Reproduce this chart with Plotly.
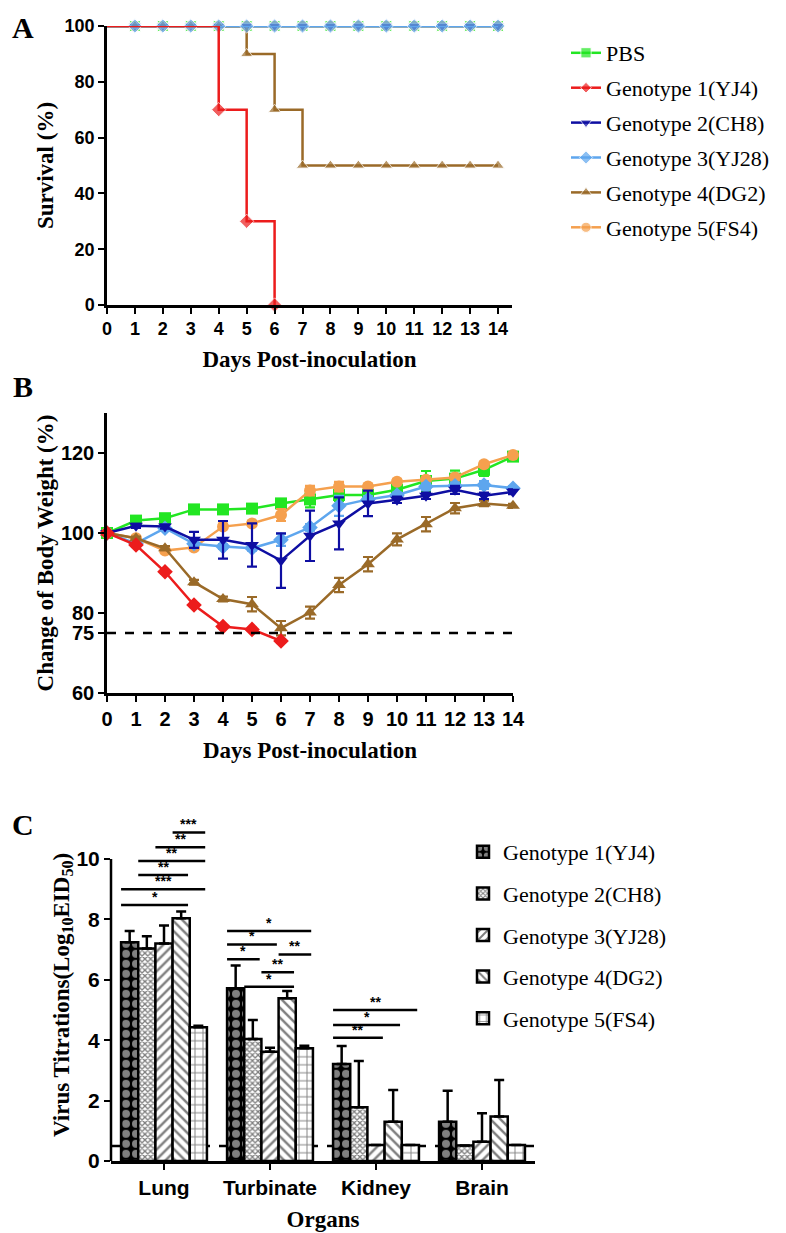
import plotly.graph_objects as go

# ---------------- data ----------------
days = list(range(15))
group_names = ["PBS", "Genotype 1(YJ4)", "Genotype 2(CH8)", "Genotype 3(YJ28)",
               "Genotype 4(DG2)", "Genotype 5(FS4)"]
colors = ["#22E622", "#EC1C1C", "#0E0EA2", "#5EA6EE", "#9A6A28", "#F5A04E"]
symbols = ["square", "diamond", "triangle-down", "diamond", "triangle-up", "circle"]

# Panel A: survival (%)
surv_pbs = [100, 100, 100, 100, 100, 100, 100, 100, 100, 100, 100, 100, 100, 100, 100]
surv_g1_days = [0, 4, 5, 6]
surv_g1 = [100, 70, 30, 0]
surv_g2 = [100, 100, 100, 100, 100, 100, 100, 100, 100, 100, 100, 100, 100, 100, 100]
surv_g3 = [100, 100, 100, 100, 100, 100, 100, 100, 100, 100, 100, 100, 100, 100, 100]
surv_g4 = [100, 100, 100, 100, 100, 90, 70, 50, 50, 50, 50, 50, 50, 50, 50]
surv_g5 = [100, 100, 100, 100, 100, 100, 100, 100, 100, 100, 100, 100, 100, 100, 100]

# Panel B: change of body weight (%)
wt_pbs = [100, 103.1, 103.7, 105.9, 105.9, 106.1, 107.4, 108.4, 109.5, 109.5, 110.8, 113.0, 113.6, 115.8, 119.1]
wt_pbs_err = [0, 0.4, 0.3, 0.4, 0.4, 0.4, 0.5, 2.0, 1.5, 0.8, 1.0, 2.5, 2.0, 1.5, 0.8]
wt_g1_days = [0, 1, 2, 3, 4, 5, 6]
wt_g1 = [100, 97.0, 90.3, 82.0, 76.6, 75.9, 73.0]
wt_g1_err = [0, 0.3, 0.4, 0.4, 0.4, 0.4, 0.4]
wt_g2 = [100, 101.8, 101.6, 98.3, 98.3, 97.0, 93.1, 99.3, 102.4, 107.4, 108.3, 109.3, 110.8, 109.3, 110.3]
wt_g2_err = [0, 0.5, 0.5, 2.0, 4.7, 5.4, 6.8, 6.3, 6.5, 3.2, 0.8, 0.8, 1.0, 0.8, 0.6]
wt_g3 = [100, 97.4, 101.2, 97.3, 96.6, 96.2, 98.3, 101.4, 106.8, 108.4, 109.5, 111.6, 111.8, 112.0, 111.2]
wt_g3_err = [0, 0.4, 0.5, 0.6, 0.6, 0.6, 1.5, 0.8, 2.5, 0.8, 0.6, 0.8, 0.8, 1.0, 0.5]
wt_g4 = [100, 98.7, 96.2, 87.7, 83.5, 82.2, 76.2, 80.1, 87.0, 92.2, 98.4, 102.2, 106.2, 107.4, 106.8]
wt_g4_err = [0, 0.4, 0.5, 0.6, 0.6, 1.8, 1.8, 1.5, 1.8, 1.8, 1.5, 1.8, 1.3, 0.7, 0.5]
wt_g5 = [100, 98.7, 95.6, 96.4, 101.6, 102.4, 104.5, 110.6, 111.6, 111.6, 112.8, 113.3, 113.9, 117.2, 119.5]
wt_g5_err = [0, 0.4, 0.4, 0.5, 0.6, 0.6, 1.5, 1.2, 1.2, 0.6, 0.6, 0.6, 0.6, 0.6, 0.5]
weight_threshold = 75

# Panel C: virus titrations
organs = ["Lung", "Turbinate", "Kidney", "Brain"]
geno_names = ["Genotype 1(YJ4)", "Genotype 2(CH8)", "Genotype 3(YJ28)",
              "Genotype 4(DG2)", "Genotype 5(FS4)"]
titer_g1 = [7.24, 5.72, 3.21, 1.30]
titer_g1_err = [0.38, 0.75, 0.60, 1.03]
titer_g2 = [7.04, 4.04, 1.78, 0.51]
titer_g2_err = [0.40, 0.63, 1.53, 0.0]
titer_g3 = [7.20, 3.62, 0.53, 0.64]
titer_g3_err = [0.60, 0.13, 0.0, 0.94]
titer_g4 = [8.04, 5.39, 1.30, 1.47]
titer_g4_err = [0.22, 0.24, 1.05, 1.21]
titer_g5 = [4.43, 3.73, 0.53, 0.53]
titer_g5_err = [0.05, 0.09, 0.0, 0.0]
detection_limit = 0.5

# significance comparisons: (organ index, genotype a, genotype b, bracket height, label)
comparisons = [
    (0, 3, 4, 10.88, "***"),
    (0, 2, 4, 10.39, "**"),
    (0, 1, 4, 9.93, "**"),
    (0, 1, 3, 9.47, "**"),
    (0, 0, 4, 9.00, "***"),
    (0, 0, 3, 8.48, "*"),
    (1, 0, 4, 7.62, "*"),
    (1, 0, 2, 7.17, "*"),
    (1, 3, 4, 6.84, "**"),
    (1, 0, 1, 6.68, "*"),
    (1, 2, 3, 6.25, "**"),
    (1, 1, 3, 5.77, "*"),
    (2, 0, 4, 5.00, "**"),
    (2, 0, 3, 4.50, "*"),
    (2, 0, 2, 4.08, "**"),
]

# ---------------- figure ----------------
# the page body has an 8px margin, so the figure is drawn 8px smaller and offset
OFF = 8
W, H = 786 - OFF, 1233 - OFF
def px_x(p):
    return (p - OFF) / W
def px_y(p):
    return 1 - (p - OFF) / H

fig = go.Figure()

tick_font_A = dict(family="Liberation Sans, Arial", size=18, color="black", weight="bold")
tick_font_B = dict(family="Liberation Sans, Arial", size=20, color="black", weight="bold")
tick_font_C = dict(family="Liberation Sans, Arial", size=21, color="black", weight="bold")
title_font = dict(family="Liberation Serif, Times New Roman", size=23, color="black", weight="bold")

# ---- Panel A ----
surv_series = [
    (0, days, surv_pbs),
    (5, days, surv_g5),
    (2, days, surv_g2),
    (4, days, surv_g4),
    (3, days, surv_g3),
    (1, surv_g1_days, surv_g1),
]
for gi, xs, ys in surv_series:
    fig.add_trace(go.Scatter(
        x=xs, y=ys, mode="lines+markers", line_shape="hv",
        line=dict(color=colors[gi], width=2.5),
        marker=dict(symbol=symbols[gi], color=colors[gi],
                    size=[0 if d == 0 else 11 for d in xs]),
        name=group_names[gi], legendrank=gi + 1, legendgroup=f"g{gi}",
        legend="legend", cliponaxis=False, xaxis="x", yaxis="y",
    ))

# ---- Panel B ----
wt_series = [
    (0, days, wt_pbs, wt_pbs_err),
    (5, days, wt_g5, wt_g5_err),
    (3, days, wt_g3, wt_g3_err),
    (4, days, wt_g4, wt_g4_err),
    (2, days, wt_g2, wt_g2_err),
    (1, wt_g1_days, wt_g1, wt_g1_err),
]
for gi, xs, ys, es in wt_series:
    fig.add_trace(go.Scatter(
        x=xs, y=ys, mode="lines+markers",
        line=dict(color=colors[gi], width=2.5),
        marker=dict(symbol=symbols[gi], color=colors[gi], size=12),
        error_y=dict(type="data", array=es, color=colors[gi], thickness=2.2, width=5),
        showlegend=False, cliponaxis=False, xaxis="x2", yaxis="y2",
    ))

# ---- Panel C ----
titers = [titer_g1, titer_g2, titer_g3, titer_g4, titer_g5]
titer_errs = [titer_g1_err, titer_g2_err, titer_g3_err, titer_g4_err, titer_g5_err]
bar_fill = ["black", "white", "white", "white", "white"]
patterns = [
    dict(shape=".", size=10, solidity=0.5, fgcolor="white", bgcolor="black"),
    dict(shape="x", size=4, solidity=0.55, fgcolor="black", bgcolor="white"),
    dict(shape="/", size=7, solidity=0.35, fgcolor="black", bgcolor="white"),
    dict(shape="\\", size=7, solidity=0.35, fgcolor="black", bgcolor="white"),
    dict(shape="+", size=8, solidity=0.22, fgcolor="black", bgcolor="white"),
]
organ_pos = list(range(len(organs)))
for gi in range(5):
    fig.add_trace(go.Bar(
        x=organ_pos, y=titers[gi], name=geno_names[gi],
        marker=dict(color=bar_fill[gi], line=dict(color="black", width=2.5),
                    pattern=dict(fillmode="overlay", **patterns[gi])),
        error_y=dict(type="data", symmetric=False, array=titer_errs[gi],
                     arrayminus=[0] * len(organs), color="black", thickness=2.5, width=5),
        legend="legend2", legendgroup=f"c{gi}", xaxis="x3", yaxis="y3",
    ))

bargap = 0.19
bar_w = (1 - bargap) / 5
offs = [(-2 + k) * bar_w for k in range(5)]

shapes = []
annotations = []
# threshold lines
shapes.append(dict(type="line", xref="x2", yref="y2", x0=0, x1=14,
                   y0=weight_threshold, y1=weight_threshold,
                   line=dict(color="black", width=2.5, dash="dash")))
shapes.append(dict(type="line", xref="x3", yref="y3", x0=-0.5, x1=3.5,
                   y0=detection_limit, y1=detection_limit, layer="below",
                   line=dict(color="black", width=2.5, dash="dash")))
for organ, ga, gb, hgt, lab in comparisons:
    x0 = organ + offs[ga] - bar_w / 2
    x1 = organ + offs[gb] + bar_w * 0.4
    shapes.append(dict(type="line", xref="x3", yref="y3", x0=x0, x1=x1, y0=hgt, y1=hgt,
                       line=dict(color="black", width=2.5)))
    annotations.append(dict(x=(x0 + x1) / 2, y=hgt, xref="x3", yref="y3", text=lab,
                            showarrow=False, yshift=8,
                            font=dict(family="Liberation Sans, Arial", size=14,
                                      color="black", weight="bold")))

# C y-axis line only up to 10
domC = [px_y(1161), px_y(1161 - 11 * 30.2)]
yC_range = [0, 11]
y10 = domC[0] + (10 - yC_range[0]) / (yC_range[1] - yC_range[0]) * (domC[1] - domC[0])
shapes.append(dict(type="line", xref="paper", yref="paper",
                   x0=px_x(111), x1=px_x(111), y0=domC[0], y1=y10,
                   line=dict(color="black", width=2.5)))

# panel letters
for letter, lx, ly in [("A", 23, 28), ("B", 23, 387), ("C", 23, 824)]:
    annotations.append(dict(x=px_x(lx), y=px_y(ly), xref="paper", yref="paper", text=letter,
                            showarrow=False, xanchor="center", yanchor="middle",
                            font=dict(family="Liberation Serif, Times New Roman",
                                      size=30, color="black", weight="bold")))

axis_common = dict(showgrid=False, zeroline=False, showline=True, linecolor="black",
                   linewidth=2.5, ticks="outside", ticklen=6, tickwidth=2.2, tickcolor="black",
                   automargin=False)

fig.update_layout(
    width=W, height=H, margin=dict(l=0, r=0, t=0, b=0, autoexpand=False),
    paper_bgcolor="white", plot_bgcolor="white",
    barmode="group", bargap=bargap, bargroupgap=0,
    shapes=shapes, annotations=annotations,
    xaxis=dict(domain=[px_x(107), px_x(512)], range=[0, 14.5], tickvals=days,
               anchor="y", tickfont=tick_font_A,
               title=dict(text="Days Post-inoculation", font=title_font, standoff=13),
               **axis_common),
    yaxis=dict(domain=[px_y(305), px_y(26)], range=[0, 100], tickvals=[0, 20, 40, 60, 80, 100],
               anchor="x", tickfont=tick_font_A,
               title=dict(text="Survival (%)", font=title_font, standoff=5),
               **axis_common),
    xaxis2=dict(domain=[px_x(107), px_x(513)], range=[0, 14], tickvals=days,
                anchor="y2", tickfont=tick_font_B,
                title=dict(text="Days Post-inoculation", font=title_font, standoff=14),
                **axis_common),
    yaxis2=dict(domain=[px_y(693), px_y(413)], range=[60, 130],
                tickvals=[60, 75, 80, 100, 120], anchor="x2", tickfont=tick_font_B,
                title=dict(text="Change of Body Weight (%)", font=title_font, standoff=1),
                **axis_common),
    xaxis3=dict(domain=[px_x(111), px_x(535)], range=[-0.5, 3.5], tickvals=organ_pos,
                ticktext=organs, anchor="y3", tickfont=tick_font_C,
                title=dict(text="Organs", font=title_font, standoff=13),
                **axis_common),
    yaxis3=dict(domain=domC, range=yC_range, tickvals=[0, 2, 4, 6, 8, 10], anchor="x3",
                tickfont=tick_font_C,
                title=dict(text="Virus Titrations(Log<sub>10</sub>EID<sub>50</sub>)",
                           font=title_font, standoff=0),
                **{**axis_common, "showline": False}),
    legend=dict(x=px_x(566), y=px_y(32), xanchor="left", yanchor="top",
                traceorder="grouped", tracegroupgap=3.3, itemwidth=30,
                bgcolor="rgba(0,0,0,0)",
                font=dict(family="Liberation Serif, Times New Roman", size=22, color="black")),
    legend2=dict(x=px_x(463), y=px_y(831), xanchor="left", yanchor="top",
                 traceorder="grouped", tracegroupgap=10, itemwidth=30,
                 bgcolor="rgba(0,0,0,0)",
                 font=dict(family="Liberation Serif, Times New Roman", size=22, color="black")),
)

fig.write_html("out.html")
